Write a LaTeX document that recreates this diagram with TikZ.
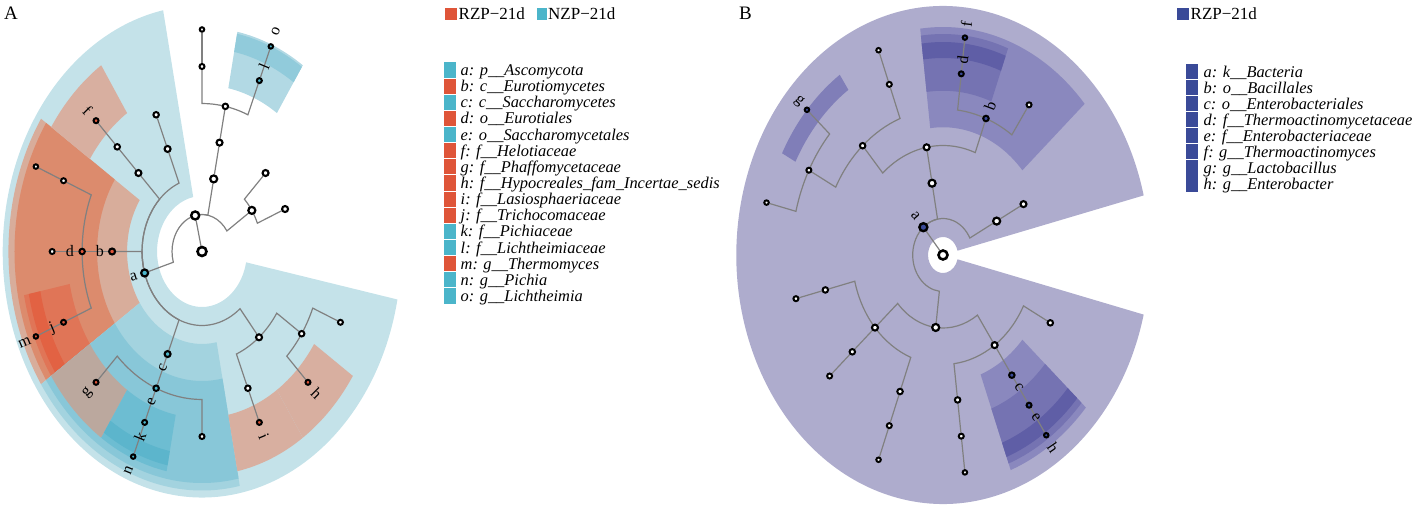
\documentclass[tikz,border=0pt]{standalone}
\usepackage{fontspec}
\setmainfont{Liberation Serif}
\usetikzlibrary{calc}

\definecolor{rzp}{HTML}{DF5539}
\definecolor{nzp}{HTML}{4BB5CA}
\definecolor{bact}{HTML}{3A4A98}
\definecolor{abg}{HTML}{C4E2E9}
\definecolor{cbg}{HTML}{A3D3DF}
\definecolor{ebg}{HTML}{88C7D8}
\definecolor{kbg}{HTML}{6DBDD2}
\definecolor{nbg}{HTML}{5CB5CC}
\definecolor{lbg}{HTML}{B2D9E4}
\definecolor{obg}{HTML}{91CBDB}
\definecolor{bbg}{HTML}{D8AD9B}
\definecolor{dbg}{HTML}{DC8B6D}
\definecolor{jbg}{HTML}{E07557}
\definecolor{mbg}{HTML}{E26243}
\definecolor{sbg}{HTML}{D8AFA0}
\definecolor{gbg}{HTML}{BBA89E}
\definecolor{Bbg}{HTML}{AEACCD}
\definecolor{Bl4}{HTML}{8A88BE}
\definecolor{Bl5}{HTML}{7573B2}
\definecolor{Bl6}{HTML}{5F5EA6}
\definecolor{Bgg}{HTML}{807EB8}

\pgfdeclarelayer{bg}
\pgfdeclarelayer{edges}
\pgfsetlayers{bg,edges,main}

\tikzset{
  mk/.style={circle, draw=black, fill=white, inner sep=0pt, line width=2pt},
  lv0/.style={minimum size=9pt, line width=2.6pt},
  lv1/.style={minimum size=8pt, line width=2.4pt},
  lv2/.style={minimum size=7pt, line width=2.2pt},
  lv3/.style={minimum size=6pt, line width=2.1pt},
  lv4/.style={minimum size=5.5pt},
  lv5/.style={minimum size=5pt},
  lv6/.style={minimum size=4.5pt},
  branch/.style={draw=gray, line width=1.2pt},
  clab/.style={inner sep=0pt, font=\fontsize{16}{16}\selectfont},
  keytxt/.style={anchor=base west, inner sep=0pt, font=\fontsize{16.4}{17}\selectfont\itshape},
  keysq/.style={anchor=west, inner sep=0pt, minimum width=12pt, minimum height=15.2pt},
  toptxt/.style={anchor=base west, inner sep=0pt, font=\fontsize{17}{17}\selectfont},
}

% annular wedge: start, end, inner, outer, colour
\newcommand{\cladebg}[5]{\fill[#5] (#1:#3) arc[start angle=#1, end angle=#2, radius=#3] -- (#2:#4) arc[start angle=#2, end angle=#1, radius=#4] -- cycle;}
% branch: parent, parent angle, child angle, parent radius, child
\newcommand{\cladebr}[5]{\draw[branch] (#1.center) arc[start angle=#2, end angle=#3, radius=#4] -- (#5);}

\begin{document}
\begin{tikzpicture}[x=1pt, y=1pt]
\useasboundingbox (0,0) rectangle (1416,507);

\node[anchor=base west, inner sep=0pt, font=\fontsize{19}{19}\selectfont] (labA) at (4,487) {A};
\node[anchor=base west, inner sep=0pt, font=\fontsize{19}{19}\selectfont] (labB) at (739,487) {B};

% panel A
\begin{scope}[shift={(202,255.5)}, xscale=0.81]
\begin{pgfonlayer}{bg}
\cladebg{101.25}{348.75}{55.5}{246}{abg}
\cladebg{146.25}{213.75}{92.5}{239}{bbg}
\cladebg{146.25}{213.75}{129.5}{231.5}{dbg}
\cladebg{191.25}{213.75}{166.5}{224}{jbg}
\cladebg{191.25}{213.75}{203.5}{218}{mbg}
\cladebg{123.75}{146.25}{166.5}{224}{sbg}
\cladebg{213.75}{281.25}{92.5}{239}{cbg}
\cladebg{213.75}{281.25}{129.5}{231.5}{ebg}
\cladebg{213.75}{236.25}{166.5}{224}{gbg}
\cladebg{236.25}{258.75}{166.5}{224}{kbg}
\cladebg{236.25}{258.75}{203.5}{218}{nbg}
\cladebg{281.25}{303.75}{166.5}{224}{sbg}
\cladebg{303.75}{326.25}{166.5}{224}{sbg}
\cladebg{56.25}{78.75}{166.5}{224}{lbg}
\cladebg{56.25}{78.75}{203.5}{222}{obg}
\end{pgfonlayer}

\node[mk,lv0] (Aroot) at (0,0) {};
\node[mk,lv1] (AkA) at (103.125:37) {};
\node[mk,lv2,fill=nzp] (Aa) at (196.875:74) {};
\node[mk,lv2] (Apm) at (78.75:74) {};
\node[mk,lv2] (Apb) at (33.75:74) {};
\node[mk,lv3] (Acm) at (78.75:111) {};
\node[mk,lv4] (Aom) at (78.75:148) {};
\node[mk,lv5] (Afm) at (90:185) {};
\node[mk,lv6] (Agm) at (90:222) {};
\node[mk,lv5,fill=nzp] (Al) at (67.5:185) {};
\node[mk,lv6,fill=nzp] (Ao) at (67.5:222) {};
\node[mk,lv3] (Acb1) at (45:111) {};
\node[mk,lv3] (Acb2) at (22.5:111) {};
\node[mk,lv3] (Aleo) at (135:111) {};
\node[mk,lv4] (Aol) at (135:148) {};
\node[mk,lv5,fill=rzp] (Af) at (135:185) {};
\node[mk,lv3] (Acx) at (112.5:111) {};
\node[mk,lv4] (Aox) at (112.5:148) {};
\node[mk,lv3,fill=rzp] (Ab) at (180:111) {};
\node[mk,lv4,fill=rzp] (Ad) at (180:148) {};
\node[mk,lv5] (Afd) at (157.5:185) {};
\node[mk,lv6] (Agd) at (157.5:222) {};
\node[mk,lv5] (Afd2) at (180:185) {};
\node[mk,lv5,fill=rzp] (Aj) at (202.5:185) {};
\node[mk,lv6,fill=rzp] (Am) at (202.5:222) {};
\node[mk,lv3,fill=nzp] (Ac) at (247.5:111) {};
\node[mk,lv4,fill=nzp] (Ae) at (247.5:148) {};
\node[mk,lv5,fill=rzp] (Ag) at (225:185) {};
\node[mk,lv5,fill=nzp] (Ak) at (247.5:185) {};
\node[mk,lv6,fill=nzp] (An) at (247.5:222) {};
\node[mk,lv5] (Afe) at (270:185) {};
\node[mk,lv3] (Asor) at (309.375:111) {};
\node[mk,lv4] (Aso1) at (292.5:148) {};
\node[mk,lv5,fill=rzp] (Ai) at (292.5:185) {};
\node[mk,lv4] (Aso2) at (326.25:148) {};
\node[mk,lv5,fill=rzp] (Ah) at (315:185) {};
\node[mk,lv5] (Afh) at (337.5:185) {};

\begin{pgfonlayer}{edges}
\draw[branch] (Aroot) -- (AkA);
\cladebr{AkA}{103.125}{196.875}{37}{Aa}
\cladebr{AkA}{103.125}{78.75}{37}{Apm}
\cladebr{AkA}{103.125}{33.75}{37}{Apb}
\draw[branch] (Apm) -- (Acm) -- (Aom);
\cladebr{Aom}{78.75}{90}{148}{Afm}
\cladebr{Aom}{78.75}{67.5}{148}{Al}
\draw[branch] (Afm) -- (Agm);
\draw[branch] (Al) -- (Ao);
\cladebr{Apb}{33.75}{45}{74}{Acb1}
\cladebr{Apb}{33.75}{22.5}{74}{Acb2}
\cladebr{Aa}{196.875}{135}{74}{Aleo}
\cladebr{Aa}{196.875}{112.5}{74}{Acx}
\cladebr{Aa}{196.875}{180}{74}{Ab}
\cladebr{Aa}{196.875}{247.5}{74}{Ac}
\cladebr{Aa}{196.875}{309.375}{74}{Asor}
\draw[branch] (Aleo) -- (Aol) -- (Af);
\draw[branch] (Acx) -- (Aox);
\draw[branch] (Ab) -- (Ad) -- (Afd2);
\cladebr{Ad}{180}{157.5}{148}{Afd}
\cladebr{Ad}{180}{202.5}{148}{Aj}
\draw[branch] (Afd) -- (Agd);
\draw[branch] (Aj) -- (Am);
\draw[branch] (Ac) -- (Ae) -- (Ak) -- (An);
\cladebr{Ae}{247.5}{225}{148}{Ag}
\cladebr{Ae}{247.5}{270}{148}{Afe}
\cladebr{Asor}{309.375}{292.5}{111}{Aso1}
\cladebr{Asor}{309.375}{326.25}{111}{Aso2}
\draw[branch] (Aso1) -- (Ai);
\cladebr{Aso2}{326.25}{315}{148}{Ah}
\cladebr{Aso2}{326.25}{337.5}{148}{Afh}
\end{pgfonlayer}

\node[clab,rotate=16.9] (lbAa) at (196.875:88) {a};
\node[clab] (lbAb) at (180:126) {b};
\node[clab] (lbAd) at (180:163) {d};
\node[clab,rotate=-45] (lbAf) at (135:200) {f};
\node[clab,rotate=22.5] (lbAj) at (202.5:200) {j};
\node[clab,rotate=22.5] (lbAm) at (202.5:237) {m};
\node[clab,rotate=67.5] (lbAc) at (247.5:126) {c};
\node[clab,rotate=67.5] (lbAe) at (247.5:163) {e};
\node[clab,rotate=45] (lbAg) at (225:200) {g};
\node[clab,rotate=67.5] (lbAk) at (247.5:200) {k};
\node[clab,rotate=67.5] (lbAn) at (247.5:237) {n};
\node[clab,rotate=-45] (lbAh) at (315:200) {h};
\node[clab,rotate=-67.5] (lbAi) at (292.5:200) {i};
\node[clab,rotate=67.5] (lbAl) at (67.5:200) {l};
\node[clab,rotate=67.5] (lbAo) at (67.5:238) {o};
\end{scope}

% panel B
\begin{scope}[shift={(943,252)}, xscale=0.83]
\begin{pgfonlayer}{bg}
\cladebg{13.846}{346.154}{18}{249}{Bbg}
\cladebg{41.538}{96.923}{127.75}{228}{Bl4}
\cladebg{69.231}{96.923}{164.25}{221}{Bl5}
\cladebg{69.231}{96.923}{197}{213}{Bl6}
\cladebg{124.615}{152.308}{200.75}{219}{Bgg}
\cladebg{290.769}{318.462}{127.75}{230}{Bl4}
\cladebg{290.769}{318.462}{164.25}{223}{Bl5}
\cladebg{290.769}{318.462}{200.75}{216}{Bl6}
\end{pgfonlayer}

\node[mk,lv0] (Broot) at (0,0) {};
\node[mk,lv1,fill=bact] (Ba) at (130.385:36.5) {};
\node[mk,lv2] (Bp1) at (27.692:73) {};
\node[mk,lv3] (Bc1) at (27.692:109.5) {};
\node[mk,lv2] (Bfi) at (100.385:73) {};
\node[mk,lv3] (Bbac) at (100.385:109.5) {};
\node[mk,lv4,fill=bact] (Bb) at (69.231:146) {};
\node[mk,lv5] (Bfb) at (55.385:182.5) {};
\node[mk,lv5,fill=bact] (Bd) at (83.077:182.5) {};
\node[mk,lv6,fill=bact] (Bf) at (83.077:219) {};
\node[mk,lv4] (Blo) at (131.538:146) {};
\node[mk,lv5] (Blf1) at (110.769:182.5) {};
\node[mk,lv6] (Blg1) at (110.769:219) {};
\node[mk,lv5] (Blf2) at (152.308:182.5) {};
\node[mk,lv6,fill=bact] (Bg) at (138.462:219) {};
\node[mk,lv6] (Blg3) at (166.154:219) {};
\node[mk,lv2] (Bpr) at (263.077:73) {};
\node[mk,lv3] (Bal) at (221.538:109.5) {};
\node[mk,lv4] (Bo1) at (193.846:146) {};
\node[mk,lv5] (Bf1) at (193.846:182.5) {};
\node[mk,lv4] (Bo2) at (221.538:146) {};
\node[mk,lv5] (Bf2) at (221.538:182.5) {};
\node[mk,lv4] (Bo3) at (249.231:146) {};
\node[mk,lv5] (Bf3) at (249.231:182.5) {};
\node[mk,lv6] (Bg3) at (249.231:219) {};
\node[mk,lv3] (Bga) at (304.615:109.5) {};
\node[mk,lv4] (Bo4) at (276.923:146) {};
\node[mk,lv5] (Bf4) at (276.923:182.5) {};
\node[mk,lv6] (Bg4) at (276.923:219) {};
\node[mk,lv4,fill=bact] (Bc) at (304.615:146) {};
\node[mk,lv5,fill=bact] (Be) at (304.615:182.5) {};
\node[mk,lv6,fill=bact] (Bh) at (304.615:219) {};
\node[mk,lv4] (Bo6) at (332.308:146) {};

\begin{pgfonlayer}{edges}
\draw[branch] (Broot) -- (Ba);
\cladebr{Ba}{130.385}{27.692}{36.5}{Bp1}
\cladebr{Ba}{130.385}{100.385}{36.5}{Bfi}
\cladebr{Ba}{130.385}{263.077}{36.5}{Bpr}
\draw[branch] (Bp1) -- (Bc1);
\draw[branch] (Bfi) -- (Bbac);
\cladebr{Bbac}{100.385}{69.231}{109.5}{Bb}
\cladebr{Bbac}{100.385}{131.538}{109.5}{Blo}
\cladebr{Bb}{69.231}{55.385}{146}{Bfb}
\cladebr{Bb}{69.231}{83.077}{146}{Bd}
\draw[branch] (Bd) -- (Bf);
\cladebr{Blo}{131.538}{110.769}{146}{Blf1}
\cladebr{Blo}{131.538}{152.308}{146}{Blf2}
\draw[branch] (Blf1) -- (Blg1);
\cladebr{Blf2}{152.308}{138.462}{182.5}{Bg}
\cladebr{Blf2}{152.308}{166.154}{182.5}{Blg3}
\cladebr{Bpr}{263.077}{221.538}{73}{Bal}
\cladebr{Bpr}{263.077}{304.615}{73}{Bga}
\cladebr{Bal}{221.538}{193.846}{109.5}{Bo1}
\cladebr{Bal}{221.538}{249.231}{109.5}{Bo3}
\draw[branch] (Bal) -- (Bo2) -- (Bf2);
\draw[branch] (Bo1) -- (Bf1);
\draw[branch] (Bo3) -- (Bf3) -- (Bg3);
\cladebr{Bga}{304.615}{276.923}{109.5}{Bo4}
\cladebr{Bga}{304.615}{332.308}{109.5}{Bo6}
\draw[branch] (Bga) -- (Bc) -- (Be) -- (Bh);
\draw[branch] (Bo4) -- (Bf4) -- (Bg4);
\end{pgfonlayer}

\node[clab,rotate=-49.6] (lbBa) at (130.385:51) {a};
\node[clab,rotate=69.2] (lbBb) at (69.231:160) {b};
\node[clab,rotate=83.1] (lbBd) at (83.077:197) {d};
\node[clab,rotate=83.1] (lbBf) at (83.077:233) {f};
\node[clab,rotate=-41.5] (lbBg) at (138.462:232) {g};
\node[clab,rotate=-55.4] (lbBc) at (304.615:161) {c};
\node[clab,rotate=-55.4] (lbBe) at (304.615:197) {e};
\node[clab,rotate=-55.4] (lbBh) at (304.615:234) {h};
\end{scope}

% legends
\node[keysq, fill=rzp, minimum height=11.7pt, minimum width=11.7pt] (keyR) at (445,493) {};
\node[toptxt] (txtR) at (458.5,487.6) {RZP−21d};
\node[keysq, fill=nzp, minimum height=11.7pt, minimum width=10.5pt] (keyN) at (536.5,493) {};
\node[toptxt] (txtN) at (548,487.6) {NZP−21d};
\foreach \col/\txt [count=\i from 0] in {nzp/{a: p\_\_Ascomycota}, rzp/{b: c\_\_Eurotiomycetes},
  nzp/{c: c\_\_Saccharomycetes}, rzp/{d: o\_\_Eurotiales}, nzp/{e: o\_\_Saccharomycetales},
  rzp/{f: f\_\_Helotiaceae}, rzp/{g: f\_\_Phaffomycetaceae}, rzp/{h: f\_\_Hypocreales\_fam\_Incertae\_sedis},
  rzp/{i: f\_\_Lasiosphaeriaceae}, rzp/{j: f\_\_Trichocomaceae}, nzp/{k: f\_\_Pichiaceae},
  nzp/{l: f\_\_Lichtheimiaceae}, rzp/{m: g\_\_Thermomyces}, nzp/{n: g\_\_Pichia}, nzp/{o: g\_\_Lichtheimia}}{
  \node[keysq, fill=\col] (keyA\i) at (444,437-16.14*\i) {};
  \node[keytxt] (txtA\i) at (460.5,431.5-16.14*\i) {\txt};
}

\node[keysq, fill=bact, minimum height=11.7pt, minimum width=11.7pt] (keyB) at (1177,493) {};
\node[toptxt] (txtB) at (1190.5,487.6) {RZP−21d};
\foreach \txt [count=\i from 0] in {{a: k\_\_Bacteria}, {b: o\_\_Bacillales}, {c: o\_\_Enterobacteriales},
  {d: f\_\_Thermoactinomycetaceae}, {e: f\_\_Enterobacteriaceae}, {f: g\_\_Thermoactinomyces},
  {g: g\_\_Lactobacillus}, {h: g\_\_Enterobacter}}{
  \node[keysq, fill=bact] (keyB\i) at (1186,435.3-16.04*\i) {};
  \node[keytxt] (txtB\i) at (1203.5,429.8-16.04*\i) {\txt};
}
\end{tikzpicture}
\end{document}
